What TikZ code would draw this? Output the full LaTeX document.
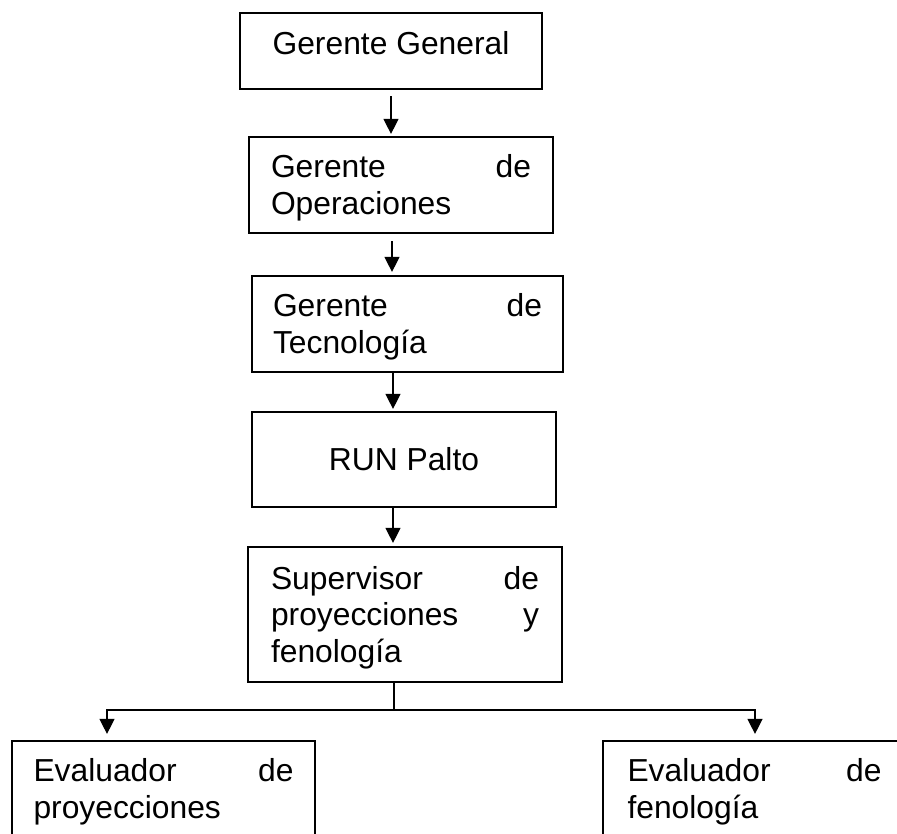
\documentclass[tikz,border=0pt]{standalone}
\usepackage{fontspec}
\setmainfont{Liberation Sans}
\usetikzlibrary{arrows.meta}

% taller first line, so the text block sits a little lower in its box
\newcommand{\firstline}{\rule{0pt}{29pt}}

\tikzset{
  chartfont/.style={font=\fontsize{31.8}{36.5}\selectfont},
  box/.style={draw=black, line width=2.2pt, rectangle, chartfont, align=left,
    inner ysep=0pt},
  arr/.style={draw=black, line width=1.3pt, -{Triangle[length=15pt,width=15pt]}},
  link/.style={draw=black, line width=1.3pt}
}

\begin{document}
\begin{tikzpicture}[x=1pt, y=-1pt]
  \useasboundingbox (0,0) rectangle (897,834);
  \fill[white] (0,0) rectangle (897,834);
  \clip (0,0) rectangle (897,834);

  % organisation boxes
  \node[box, minimum width=302pt, minimum height=76pt, align=center,
        text height=31pt, text depth=23pt] (gg) at (391,51) {Gerente General};
  \node[box, minimum width=304pt, minimum height=96pt, text width=260pt,
        inner xsep=22pt] (go) at (401,185) {\firstline Gerente\hfill de\\Operaciones};
  \node[box, minimum width=311pt, minimum height=96pt, text width=269pt,
        inner xsep=21pt] (gt) at (407.5,324) {\firstline Gerente\hfill de\\Tecnología};
  \node[box, minimum width=304pt, minimum height=95pt, align=center] (run) at (404,459.5) {RUN Palto};
  \node[box, minimum width=314pt, minimum height=135pt, text width=268pt,
        inner xsep=23pt] (sup) at (405,614.5) {\firstline Supervisor\hfill de\\proyecciones\hfill y\\fenología};
  \node[box, minimum width=303pt, minimum height=96pt, text width=260pt,
        inner xsep=21.5pt] (evp) at (163.5,789) {\firstline Evaluador\hfill de\\proyecciones};
  \node[box, minimum width=303pt, minimum height=96pt, text width=254pt,
        inner xsep=24.5pt] (evf) at (754.5,789) {\firstline Evaluador\hfill de\\fenología};

  % vertical chain
  \coordinate (upper) at (392,0);
  \coordinate (spine) at (393,0);
  \draw[arr] ([yshift=-6pt]gg.south) -- ([yshift=2pt]gg.south |- go.north);
  \draw[arr] ([yshift=-7pt]go.south -| upper) -- ([yshift=3pt]gt.north -| upper);
  \draw[arr] (gt.south -| spine) -- ([yshift=2pt]run.north -| spine);
  \draw[arr] (run.south -| spine) -- ([yshift=3pt]sup.north -| spine);

  % branch to the two evaluators
  \coordinate (fork) at (394,710);
  \coordinate (jl) at (107,710);
  \coordinate (jr) at (755,710);
  \draw[link] (sup.south -| fork) -- (fork);
  \draw[arr] (fork) -- (jl) -- ([yshift=6pt]jl |- evp.north);
  \draw[arr] (fork) -- (jr) -- ([yshift=6pt]jr |- evf.north);
\end{tikzpicture}
\end{document}
